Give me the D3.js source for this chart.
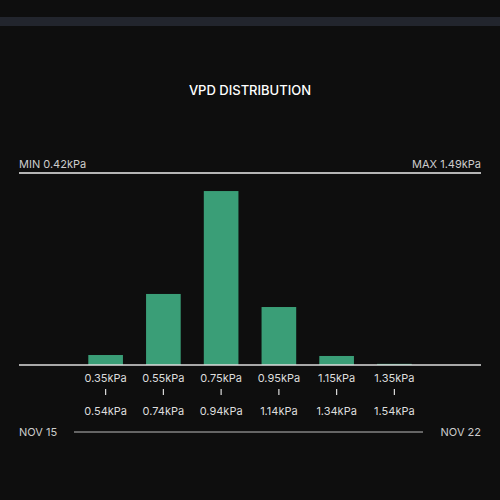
<!DOCTYPE html>
<html><head><meta charset="utf-8">
<script src="https://cdn.jsdelivr.net/npm/d3@7"></script>
<style>body{margin:0;background:#0e0e0e;}svg{display:block;font-family:Inter,"Noto Sans",sans-serif;}</style>
</head><body><svg id="chart"></svg>
<script>
var binLow = ["0.35kPa","0.55kPa","0.75kPa","0.95kPa","1.15kPa","1.35kPa"];
var binHigh = ["0.54kPa","0.74kPa","0.94kPa","1.14kPa","1.34kPa","1.54kPa"];
var shares = [5.2, 37, 90.6, 30.2, 4.7, 0.6];
var minLabel = "MIN 0.42kPa", maxLabel = "MAX 1.49kPa";
var startDate = "NOV 15", endDate = "NOV 22";
const width = 500, height = 500;
var svg = d3.select("#chart").attr("width", width).attr("height", height);
svg.append("rect").attr("width", width).attr("height", height).attr("fill", "#0e0e0e");
svg.append("rect").attr("x", 0).attr("y", 17).attr("width", width).attr("height", 9).attr("fill", "#22252d");
svg.append("text").attr("x", 250).attr("y", 95).attr("text-anchor", "middle")
    .attr("fill", "#fff").attr("font-size", 13).attr("font-weight", 500).text("VPD DISTRIBUTION");
// 8 slots, bins occupy slots 1..6
var slots = d3.range(8);
var x = d3.scaleBand().domain(slots).range([19, 481]).paddingInner(0.4).paddingOuter(0.2);
var y = d3.scaleLinear().domain([0, 100]).range([365, 173]);
svg.append("text").attr("x", 19).attr("y", 168).attr("fill", "#ccc").attr("font-size", 11).text(minLabel);
svg.append("text").attr("x", 481).attr("y", 168).attr("text-anchor", "end").attr("fill", "#ccc").attr("font-size", 11).text(maxLabel);
svg.append("line").attr("x1", 19).attr("x2", 481).attr("y1", 173).attr("y2", 173).attr("stroke", "#eee").attr("stroke-width", 1.5);
svg.selectAll(".bar").data(shares).enter().append("rect")
    .attr("x", (d, i) => x(i + 1)).attr("width", x.bandwidth())
    .attr("y", d => y(d)).attr("height", d => y(0) - y(d)).attr("fill", "#3a9e77");
svg.append("line").attr("x1", 19).attr("x2", 481).attr("y1", y(0)).attr("y2", y(0)).attr("stroke", "#ddd").attr("stroke-width", 1.5);
var lab = svg.selectAll(".lab").data(binLow).enter().append("g")
    .attr("transform", (d, i) => "translate(" + (x(i + 1) + x.bandwidth() / 2) + ",0)");
lab.append("text").attr("y", 382).attr("text-anchor", "middle").attr("fill", "#ddd").attr("font-size", 11).text(d => d);
lab.append("line").attr("y1", 389).attr("y2", 395).attr("stroke", "#ddd").attr("stroke-width", 1.2);
lab.append("text").attr("y", 415).attr("text-anchor", "middle").attr("fill", "#ddd").attr("font-size", 11).text((d, i) => binHigh[i]);
svg.append("text").attr("x", 19).attr("y", 436).attr("fill", "#ccc").attr("font-size", 11).text(startDate);
svg.append("text").attr("x", 481).attr("y", 436).attr("text-anchor", "end").attr("fill", "#ccc").attr("font-size", 11).text(endDate);
svg.append("line").attr("x1", 74).attr("x2", 423).attr("y1", 432).attr("y2", 432).attr("stroke", "#bbb").attr("stroke-width", 1);
</script></body></html>
